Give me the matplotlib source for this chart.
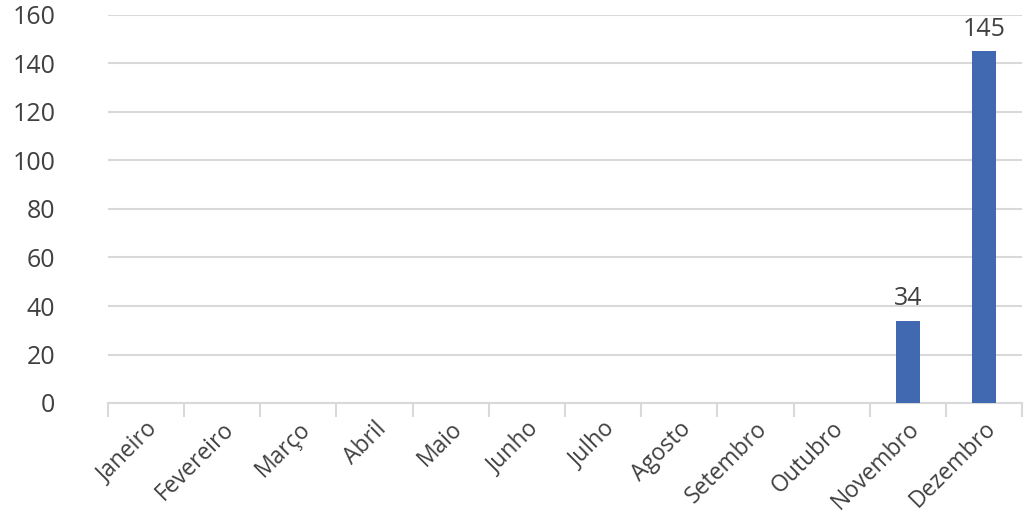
import matplotlib
matplotlib.use("Agg")
import matplotlib.pyplot as plt
import numpy as np

categories = ["Janeiro", "Fevereiro", "Março", "Abril", "Maio", "Junho",
              "Julho", "Agosto", "Setembro", "Outubro", "Novembro", "Dezembro"]
values = [0, 0, 0, 0, 0, 0, 0, 0, 0, 0, 34, 145]
yticks = [0, 20, 40, 60, 80, 100, 120, 140, 160]

plt.rcParams['font.family'] = ['Open Sans', 'DejaVu Sans']
text_color = '#404040'
grid_color = '#d9d9d9'
fs = 18

fig = plt.figure(figsize=(10.24, 5.19), dpi=100)
ax = fig.add_axes([108/1024, (519-403)/519, (1022-108)/1024, (403-15)/519])

x = np.arange(len(categories))
bars = ax.bar(x, values, width=0.32, color='#4169B1', zorder=3)
for xi, v in zip(x, values):
    if v > 0:
        ax.text(xi, v + 4, str(v), ha='center', va='bottom', fontsize=fs,
                color=text_color, zorder=4)

ax.set_xlim(-0.5, len(categories) - 0.5)
ax.set_ylim(0, 160)
ax.set_yticks(yticks)
ax.set_yticklabels([str(t) for t in yticks], fontsize=fs, color=text_color)
ax.tick_params(axis='y', length=0, pad=38)
ax.yaxis.grid(True, color=grid_color, linewidth=1.5, zorder=0)

ax.set_xticks(x)
ax.set_xticklabels(categories, rotation=45, ha='right', rotation_mode='anchor',
                   fontsize=16.5, color=text_color)
ax.tick_params(axis='x', which='major', length=0, pad=10)
ax.set_xticks(np.arange(-0.5, len(categories) + 0.5, 1), minor=True)
ax.tick_params(axis='x', which='minor', length=10, width=1.5, color=grid_color)

for s in ['top', 'right', 'left']:
    ax.spines[s].set_visible(False)
ax.spines['bottom'].set_color(grid_color)
ax.spines['bottom'].set_linewidth(1.5)

fig.savefig('out.png', dpi=100)
